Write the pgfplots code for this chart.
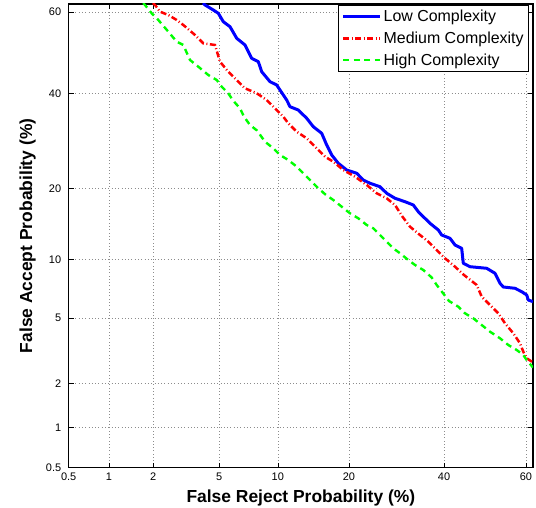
\documentclass[border=0pt]{standalone}
\usepackage{pgfplots}
\pgfplotsset{compat=1.18}
\usepackage{pgfplotstable}
\usepackage{fontspec}
\setmainfont{Liberation Sans}
\definecolor{clow}{RGB}{0,0,255}
\definecolor{cmed}{RGB}{255,0,0}
\definecolor{chigh}{RGB}{0,255,0}

% DET curves, values as normal deviates (probit of the probability)
\pgfplotstableread{
frd fad
-1.7450 0.3100
-1.7323 0.2981
-1.6810 0.2671
-1.6500 0.2466
-1.6191 0.1944
-1.5776 0.1633
-1.5362 0.0913
-1.4848 0.0497
-1.4434 -0.0329
-1.4025 -0.0541
-1.3815 -0.1162
-1.3301 -0.1783
-1.2887 -0.1988
-1.2478 -0.2609
-1.2268 -0.2919
-1.2064 -0.3336
-1.1550 -0.3541
-1.1030 -0.4056
-1.0622 -0.4578
-1.0102 -0.4988
-0.9793 -0.5714
-0.9483 -0.6336
-0.9075 -0.6851
-0.8555 -0.7267
-0.7936 -0.7472
-0.7528 -0.7888
-0.7113 -0.8093
-0.6494 -0.8305
-0.6080 -0.8714
-0.5566 -0.9025
-0.4947 -0.9236
-0.4434 -0.9441
-0.4124 -0.9857
-0.3815 -1.0168
-0.3400 -1.0578
-0.2887 -1.0994
-0.2676 -1.1305
-0.2163 -1.1510
-0.1853 -1.1926
-0.1439 -1.2131
-0.1340 -1.3062
-0.0925 -1.3274
0.0109 -1.3373
0.0622 -1.3683
0.0932 -1.4305
0.1136 -1.4534
0.1860 -1.4615
0.2275 -1.4826
0.2584 -1.5031
0.2683 -1.5342
0.2974 -1.5447
}\lowtab

\pgfplotstableread{
frd fad
-2.0550 0.3100
-2.0417 0.2981
-2.0108 0.2565
-1.9594 0.2360
-1.9075 0.2050
-1.8666 0.1739
-1.7942 0.1118
-1.7429 0.0602
-1.6705 0.0497
-1.6395 -0.0541
-1.5882 -0.1162
-1.5362 -0.1677
-1.4848 -0.2193
-1.4124 -0.2503
-1.3505 -0.2919
-1.2887 -0.3541
-1.2478 -0.3957
-1.2169 -0.4367
-1.1649 -0.4888
-1.1030 -0.5298
-1.0411 -0.5919
-0.9898 -0.6441
-0.9384 -0.6752
-0.8765 -0.7267
-0.8041 -0.7683
-0.7317 -0.8199
-0.6699 -0.8714
-0.6080 -0.9025
-0.5566 -0.9441
-0.5102 -1.0168
-0.4638 -1.0789
-0.4019 -1.1305
-0.3505 -1.1721
-0.2986 -1.2236
-0.2472 -1.2752
-0.1853 -1.3274
-0.1296 -1.3789
-0.0510 -1.4410
-0.0201 -1.5137
0.0313 -1.5652
0.0826 -1.6168
0.1241 -1.6789
0.1755 -1.7410
0.2169 -1.8031
0.2373 -1.8553
0.2584 -1.8963
0.2974 -1.9224
}\medtab

\pgfplotstableread{
frd fad
-2.1150 0.3100
-2.1036 0.2981
-2.0622 0.2466
-2.0213 0.2050
-1.9594 0.1323
-1.9075 0.0702
-1.8666 0.0497
-1.8252 -0.0435
-1.7738 -0.0851
-1.7119 -0.1367
-1.6599 -0.1677
-1.6290 -0.2093
-1.5882 -0.2503
-1.5591 -0.2951
-1.5158 -0.3435
-1.4910 -0.3957
-1.4539 -0.4472
-1.4106 -0.4814
-1.3611 -0.5510
-1.3097 -0.5919
-1.2682 -0.6336
-1.2169 -0.6646
-1.1649 -0.7062
-1.1241 -0.7472
-1.0826 -0.7888
-1.0312 -0.8404
-0.9836 -0.8820
-0.9384 -0.9131
-0.8864 -0.9547
-0.8351 -0.9957
-0.7837 -1.0267
-0.7317 -1.0683
-0.6909 -1.0888
-0.6494 -1.1305
-0.6080 -1.1721
-0.5671 -1.2131
-0.5257 -1.2441
-0.4743 -1.2857
-0.4328 -1.3168
-0.3815 -1.3478
-0.3295 -1.3944
-0.2986 -1.4410
-0.2627 -1.4876
-0.2225 -1.5404
-0.1649 -1.5758
-0.1234 -1.6168
-0.0721 -1.6479
-0.0201 -1.6895
0.0313 -1.7311
0.0932 -1.7721
0.1445 -1.8137
0.1965 -1.8447
0.2373 -1.8758
0.2584 -1.9069
0.2974 -1.9534
}\hightab

\begin{document}
\begin{tikzpicture}
\path[use as bounding box] (0,0) rectangle (536bp,508bp);
\begin{axis}[at={(68.7bp,40.3bp)},anchor=south west,scale only axis,
  width=464.3bp,height=463.7bp,
  xmin=-2.5758,xmax=0.2974,ymin=-2.5758,ymax=0.3043,
  xtick={-2.5758,-2.3263,-2.0537,-1.6449,-1.2816,-0.8416,-0.2533,0.2533},
  ytick={-2.5758,-2.3263,-2.0537,-1.6449,-1.2816,-0.8416,-0.2533,0.2533},
  xticklabels={0.5,1,2,5,10,20,40,60},
  yticklabels={0.5,1,2,5,10,20,40,60},
  axis line style={line width=1.1bp},
  tick align=inside,major tick length=5bp,tick style={line width=0.6bp,black},
  grid=major,major grid style={black!45,line width=0.6bp,dash pattern=on 0.7bp off 2.6bp},
  ticklabel style={font=\fontsize{11}{13}\selectfont},
  yticklabel style={xshift=-4bp},
  xticklabel style={yshift=-2bp},
  xlabel={False Reject Probability (\%)},
  ylabel={False Accept Probability (\%)},
  xlabel style={font=\fontsize{17.5}{20}\selectfont\bfseries,at={(axis description cs:0.5,-0.066)},anchor=center},
  ylabel style={font=\fontsize{17.5}{20}\selectfont\bfseries,at={(axis description cs:-0.0884,0.5)},anchor=center},
  legend style={at={(axis description cs:1,1)},anchor=north east,xshift=-4bp,yshift=-1bp,
    font=\fontsize{16}{19}\selectfont,draw=black,line width=0.8bp,row sep=4.5bp,
    inner ysep=3bp,inner xsep=3bp},
  legend cell align=left,
  legend image code/.code={\draw[#1] (0bp,0bp) -- (37bp,0bp);},
]
\addplot[clow,line width=3bp,line join=round] table[x=frd,y=fad] {\lowtab};
\addlegendentry{Low Complexity}
\addplot[cmed,line width=2.5bp,dash pattern=on 6bp off 2.5bp on 1bp off 2.5bp] table[x=frd,y=fad] {\medtab};
\addlegendentry{Medium Complexity}
\addplot[chigh,line width=2.4bp,dash pattern=on 6bp off 4.5bp] table[x=frd,y=fad] {\hightab};
\addlegendentry{High Complexity}
\end{axis}
\end{tikzpicture}
\end{document}
